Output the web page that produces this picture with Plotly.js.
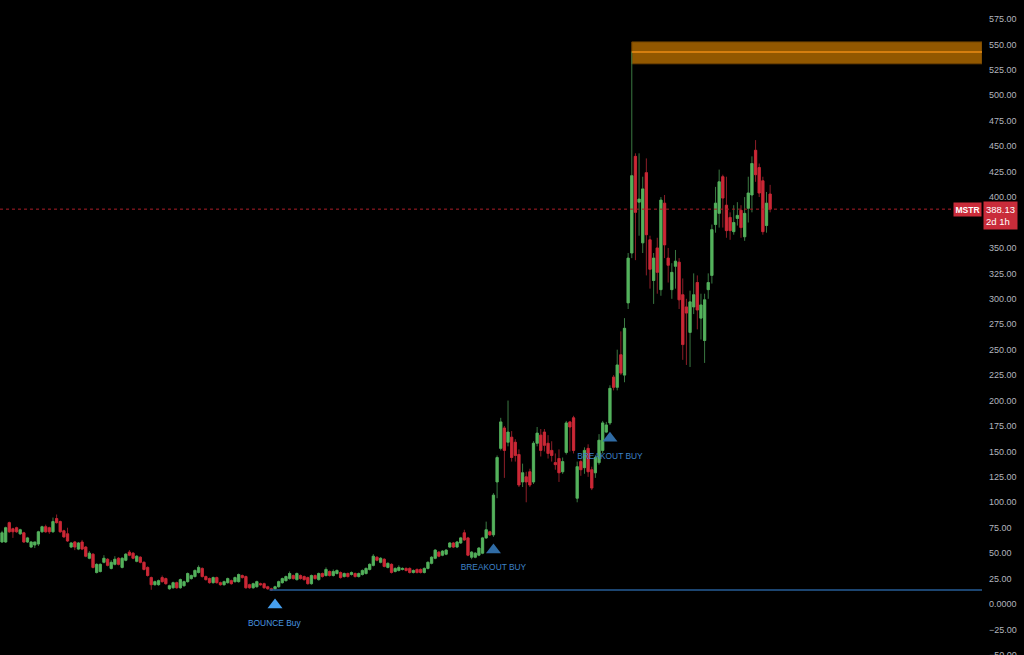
<!DOCTYPE html>
<html>
<head>
<meta charset="utf-8">
<script src="https://cdn.plot.ly/plotly-3.0.1.min.js"></script>
<style>html,body{margin:0;padding:0;background:#000;}#chart{width:1024px;height:655px;}</style>
</head>
<body>
<div id="chart"></div>
<script>
// ---- DATA ----
const symbol = "MSTR";
const lastPrice = 388.13;
const countdown = "2d 1h";
const openP = [61,61,80,74,75,69,70,61,56,58,59,71,76,75,71,84,81,72,69,56,61,54,61,56,45,49,31,32,41,44,35,39,45,36,43,51,50,42,46,41,36,26,19,19,26,25,15,16,21,16,18,22,25,27,31,35,27,25,21,26,21,19,21,23,22,22,28,27,19,16,17,20,20,17,15,15,17,21,23,25,28,24,28,27,26,20,28,24,30,28,32,28,30,31,27,30,29,30,27,29,30,34,38,46,41,44,36,39,32,33,34,35,35,31,34,34,31,35,40,45,51,48,49,56,60,56,60,70,65,46,46,48,50,65,71,68,120,153,173,159,164,159,147,120,125,130,120,158,166,169,158,151,139,143,130,149,179,183,104,140,134,153,132,129,139,151,169,178,223,213,245,225,296,345,440,395,355,424,358,318,350,309,394,340,309,332,336,304,292,267,292,316,281,259,309,323,373,384,420,392,380,366,379,387,361,389,402,446,429,416,372,403];
const highP = [72,76,81,75,76,74,71,66,62,61,72,77,78,76,85,88,82,73,75,61,62,61,63,57,52,50,40,40,48,45,43,47,46,46,50,53,51,48,47,42,37,27,23,24,28,26,19,22,22,25,23,31,29,34,38,36,28,26,27,27,22,23,26,24,27,30,29,28,20,21,23,21,21,18,16,18,23,26,28,32,29,31,29,28,27,29,29,31,31,36,33,34,34,32,31,31,32,31,31,34,36,40,49,47,46,45,41,40,36,38,36,36,36,34,35,35,36,42,47,54,52,53,54,61,61,62,66,73,66,52,51,56,66,81,72,109,146,183,175,200,170,162,152,138,130,133,160,174,172,172,166,160,148,152,144,180,180,185,140,142,154,157,135,146,167,180,179,215,225,250,268,281,345,543,443,443,420,438,362,345,360,400,402,350,335,348,340,320,300,308,325,323,305,305,325,373,410,427,422,420,385,392,395,392,400,420,440,456,433,420,405,412];
const lowP = [60,60,70,65,70,68,60,60,55,55,57,70,70,69,70,79,70,65,61,55,53,53,53,46,44,35,30,31,40,37,34,38,38,35,42,47,44,41,40,33,27,14,18,18,21,19,14,15,15,15,17,21,24,26,30,26,23,20,20,20,18,18,20,19,21,21,25,15,15,15,16,18,15,14,13,14,16,20,22,24,24,23,24,23,19,19,24,23,26,27,27,27,29,25,26,26,28,26,26,28,29,33,37,42,40,36,35,30,31,32,33,32,30,30,30,30,30,34,39,44,46,47,48,55,55,55,59,62,47,44,45,47,49,64,67,66,104,151,124,155,140,140,115,115,100,115,118,155,145,150,143,140,132,120,128,147,150,148,100,126,128,125,112,124,137,148,168,176,210,210,225,218,290,340,338,362,345,323,310,295,305,303,340,316,300,310,290,240,235,233,285,270,260,237,300,315,365,370,370,360,358,363,372,360,357,375,385,415,400,363,365,385];
const closeP = [70,75,71,71,71,73,61,65,61,61,71,76,71,71,81,80,71,66,62,60,56,60,54,47,50,36,39,39,45,38,41,44,39,45,49,48,45,47,41,34,28,19,22,23,22,20,18,21,16,24,22,30,28,33,36,27,24,21,26,21,19,22,25,20,26,29,26,16,16,20,22,19,16,15,14,17,22,25,27,30,25,30,25,24,20,28,25,30,27,34,28,32,33,26,30,27,31,27,30,33,35,39,47,43,45,37,40,31,35,36,35,33,31,33,31,31,35,41,46,53,47,52,53,60,56,61,65,63,48,51,50,55,65,73,68,107,144,179,151,169,144,146,117,129,120,117,158,168,151,156,148,146,137,129,140,178,174,151,135,132,151,130,114,144,161,178,176,212,213,235,227,271,340,421,385,398,408,363,329,340,326,397,353,333,326,337,299,255,286,297,304,289,294,299,316,368,394,415,399,367,367,375,382,370,384,404,433,422,404,366,394,388.13];

// signals (candle index, marker level, text level)
const bounceIdx = [75];   const bounceLevel = [-1];  const bounceTextLevel = [-19.7];
const breakoutIdx = [135, 167]; const breakoutLevel = [53, 163]; const breakoutTextLevel = [35.4, 144.5];
const bounceLabel = "BOUNCE Buy";
const breakoutLabel = "BREAKOUT BUY";

// supply zone & support level
const zoneTop = 552.5, zoneBottom = 531, zoneMid = 542.6, zoneStartIdx = 173;
const supportLevel = 13.8, supportStartIdx = 73.5;

// 375.00 is hidden behind the last-price label in the reference
const yTicks = [-50,-25,0,25,50,75,100,125,150,175,200,225,250,275,300,325,350,400,425,450,475,500,525,550,575];
const yTickText = yTicks.map(v => v === 0 ? "0.0000" : (v < 0 ? "\u2212" + Math.abs(v).toFixed(2) : v.toFixed(2)));

// ---- build ----
const idx = openP.map((_, i) => i);
const bodyHigh = openP.map((o, i) => Math.max(o, closeP[i]));
const bodyLow = openP.map((o, i) => Math.min(o, closeP[i]));
const xMax = 269.2, xMin = -0.55;

const GREEN = "rgb(84,178,92)", RED = "rgb(204,40,54)";
const GREEN_W = "rgb(58,120,66)", RED_W = "rgb(140,30,40)";
const FONT = "Liberation Sans, Arial, sans-serif";

const wicks = {
  type: "candlestick", x: idx, open: openP, high: highP, low: lowP, close: closeP,
  increasing: {line: {color: GREEN_W, width: 1}, fillcolor: GREEN_W},
  decreasing: {line: {color: RED_W, width: 1}, fillcolor: RED_W},
  hoverinfo: "skip", showlegend: false
};
const bodies = {
  type: "candlestick", x: idx, open: openP, high: bodyHigh, low: bodyLow, close: closeP,
  increasing: {line: {color: GREEN, width: 0.6}, fillcolor: GREEN},
  decreasing: {line: {color: RED, width: 0.6}, fillcolor: RED},
  hoverinfo: "skip", showlegend: false
};
const bounceMarker = {
  type: "scatter", mode: "markers", x: bounceIdx, y: bounceLevel,
  marker: {symbol: "triangle-up", size: 13, color: "rgb(70,160,240)"},
  hoverinfo: "skip", showlegend: false, cliponaxis: false
};
const breakoutMarker = {
  type: "scatter", mode: "markers", x: breakoutIdx, y: breakoutLevel,
  marker: {symbol: "triangle-up", size: 13, color: "rgb(48,108,165)"},
  hoverinfo: "skip", showlegend: false, cliponaxis: false
};
const bounceText = {
  type: "scatter", mode: "text", x: bounceIdx.map(v => v - 0.2), y: bounceTextLevel,
  text: bounceIdx.map(() => bounceLabel), textposition: "middle center",
  textfont: {family: FONT, size: 8.4, color: "rgb(72,150,225)"},
  hoverinfo: "skip", showlegend: false, cliponaxis: false
};
const breakoutText = {
  type: "scatter", mode: "text", x: breakoutIdx, y: breakoutTextLevel,
  text: breakoutIdx.map(() => breakoutLabel), textposition: "middle center",
  textfont: {family: FONT, size: 8.4, color: "rgb(62,130,200)"},
  hoverinfo: "skip", showlegend: false, cliponaxis: false
};

const layout = {
  width: 1024, height: 655,
  margin: {l: 0, r: 42, t: 0, b: 0, pad: 0},
  paper_bgcolor: "#000", plot_bgcolor: "#000",
  showlegend: false, boxgap: 0.12, dragmode: false,
  xaxis: {range: [xMin, xMax], visible: false, showgrid: false, zeroline: false,
          rangeslider: {visible: false}, fixedrange: true},
  yaxis: {range: [-50.1, 593.7], side: "right", showgrid: false, zeroline: false, showline: false,
          ticks: "", tickvals: yTicks, ticktext: yTickText, ticklabelstandoff: 6, ticklabeloverflow: "allow",
          tickfont: {family: FONT, size: 9, color: "#b2b5be"}, fixedrange: true},
  shapes: [
    {type: "rect", xref: "x", yref: "y", x0: zoneStartIdx, x1: xMax, y0: zoneBottom, y1: zoneTop,
     fillcolor: "rgb(146,88,0)", line: {color: "rgb(110,66,0)", width: 1}, layer: "below"},
    {type: "line", xref: "x", yref: "y", x0: zoneStartIdx, x1: xMax, y0: zoneMid, y1: zoneMid,
     line: {color: "rgb(235,140,20)", width: 1.5}},
    {type: "line", xref: "x", yref: "y", x0: supportStartIdx, x1: xMax, y0: supportLevel, y1: supportLevel,
     line: {color: "rgb(38,92,150)", width: 1.5}},
    {type: "line", xref: "paper", yref: "y", x0: 0, x1: 0.972, y0: lastPrice, y1: lastPrice,
     line: {color: "rgb(170,30,40)", width: 1, dash: "dot"}}
  ],
  annotations: [
    {xref: "paper", yref: "y", x: 1, y: lastPrice, xanchor: "right", yanchor: "middle", showarrow: false,
     text: "<b>" + symbol + "</b>", bgcolor: "rgb(201,44,58)", borderpad: 1.5,
     font: {family: FONT, size: 8.5, color: "#fff"}},
    {xref: "paper", yref: "y", x: 1, y: lastPrice, xanchor: "left", yanchor: "top", xshift: 1, yshift: 8,
     showarrow: false, align: "left", text: lastPrice.toFixed(2) + "<br>" + countdown,
     bgcolor: "rgb(201,44,58)", borderpad: 2,
     font: {family: FONT, size: 9.5, color: "#fff"}}
  ]
};

Plotly.newPlot("chart", [wicks, bodies, bounceMarker, breakoutMarker, bounceText, breakoutText], layout,
  {staticPlot: true, displayModeBar: false});
</script>
</body>
</html>
